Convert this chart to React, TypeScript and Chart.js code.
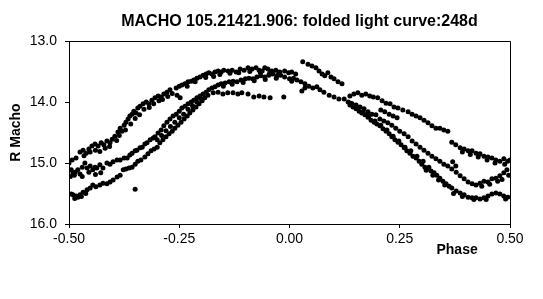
import React, { useEffect, useRef } from "react";
import { Chart, registerables } from "chart.js";

Chart.register(...registerables);

const TITLE = "MACHO 105.21421.906: folded light curve:248d";
const X_LABEL = "Phase";
const Y_LABEL = "R Macho";
const X_MIN = -0.5;
const X_MAX = 0.5;
const X_STEP = 0.25;
const Y_MIN = 13;
const Y_MAX = 16;
const Y_STEP = 1;

// [phase, R magnitude]
const upperArc: [number, number][] = [
  [-0.493, 14.95], [-0.484, 14.92], [-0.475, 14.82], [-0.468, 14.79], [-0.461, 14.84], [-0.455, 14.77],
  [-0.448, 14.72], [-0.441, 14.69], [-0.434, 14.72], [-0.427, 14.67], [-0.421, 14.7], [-0.414, 14.64],
  [-0.407, 14.67], [-0.402, 14.61], [-0.396, 14.56], [-0.389, 14.49], [-0.384, 14.43], [-0.38, 14.48],
  [-0.375, 14.38], [-0.371, 14.33], [-0.366, 14.28], [-0.362, 14.23], [-0.357, 14.2], [-0.353, 14.15],
  [-0.348, 14.18], [-0.344, 14.1], [-0.339, 14.07], [-0.332, 14.03], [-0.325, 14.0], [-0.319, 14.03],
  [-0.312, 13.97], [-0.305, 13.93], [-0.298, 13.9], [-0.291, 13.92], [-0.285, 13.87], [-0.278, 13.84],
  [-0.271, 13.8], [-0.257, 13.77], [-0.25, 13.74], [-0.244, 13.72], [-0.237, 13.7], [-0.23, 13.67],
  [-0.223, 13.66], [-0.217, 13.64], [-0.21, 13.61], [-0.203, 13.59], [-0.196, 13.56], [-0.189, 13.54],
  [-0.183, 13.52], [-0.176, 13.54], [-0.169, 13.51], [-0.162, 13.49], [-0.155, 13.51], [-0.149, 13.48],
  [-0.139, 13.49], [-0.13, 13.48], [-0.121, 13.51], [-0.112, 13.46], [-0.103, 13.48], [-0.094, 13.44],
  [-0.085, 13.46], [-0.076, 13.44], [-0.069, 13.48], [-0.062, 13.49], [-0.056, 13.44], [-0.049, 13.46],
  [-0.04, 13.49], [-0.031, 13.48], [-0.022, 13.51], [-0.011, 13.49], [-0.002, 13.52], [0.005, 13.51],
  [0.014, 13.54], [0.03, 13.34], [0.042, 13.38], [0.051, 13.41], [0.06, 13.44], [0.067, 13.49],
  [0.074, 13.54], [0.08, 13.57], [0.087, 13.52], [0.094, 13.59], [0.101, 13.62], [0.11, 13.67],
  [0.119, 13.7],
];

const upperArcInner: [number, number][] = [
  [-0.466, 14.88], [-0.452, 14.82], [-0.44, 14.79], [-0.43, 14.81], [-0.418, 14.76], [-0.408, 14.73],
  [-0.392, 14.63], [-0.386, 14.55], [-0.372, 14.46], [-0.36, 14.36], [-0.35, 14.27], [-0.34, 14.21],
  [-0.33, 14.12], [-0.318, 14.09], [-0.308, 14.03], [-0.296, 13.98], [-0.288, 13.96], [-0.276, 13.91],
  [-0.266, 13.86], [-0.232, 13.74], [-0.214, 13.67], [-0.19, 13.6], [-0.172, 13.58], [-0.158, 13.55],
  [-0.135, 13.53], [-0.115, 13.52], [-0.09, 13.5], [-0.066, 13.52], [-0.045, 13.53], [-0.025, 13.54],
];

const rightTop: [number, number][] = [
  [0.137, 13.9], [0.146, 13.87], [0.155, 13.85], [0.164, 13.89], [0.173, 13.87], [0.182, 13.9],
  [0.19, 13.92], [0.2, 13.93], [0.21, 13.98], [0.219, 14.02], [0.228, 14.03], [0.237, 14.08],
  [0.246, 14.1], [0.257, 14.13], [0.269, 14.16], [0.278, 14.2], [0.287, 14.23], [0.296, 14.26],
  [0.305, 14.3], [0.314, 14.34], [0.323, 14.39], [0.332, 14.43], [0.341, 14.43], [0.35, 14.46],
  [0.359, 14.48], [0.368, 14.66], [0.377, 14.7], [0.387, 14.75], [0.396, 14.77], [0.405, 14.8],
  [0.414, 14.8], [0.423, 14.84], [0.432, 14.85], [0.441, 14.89], [0.45, 14.9], [0.459, 14.92],
  [0.468, 14.95], [0.477, 14.97], [0.486, 14.93], [0.495, 14.97], [0.5, 14.95],
  [0.392, 14.82], [0.41, 14.86], [0.428, 14.9], [0.448, 14.95], [0.466, 15.0], [0.488, 15.02],
];

const rightUpper: [number, number][] = [
  [0.133, 14.0], [0.142, 14.03], [0.151, 14.05], [0.16, 14.08], [0.169, 14.11], [0.178, 14.16],
  [0.187, 14.2], [0.196, 14.21], [0.207, 14.13], [0.216, 14.16], [0.226, 14.2], [0.235, 14.23],
  [0.244, 14.26],
];

const rightMiddle: [number, number][] = [
  [0.205, 14.28], [0.214, 14.31], [0.223, 14.34], [0.232, 14.38], [0.241, 14.43], [0.25, 14.48],
  [0.26, 14.52], [0.269, 14.57], [0.278, 14.64], [0.287, 14.69], [0.296, 14.74], [0.305, 14.79],
  [0.314, 14.84], [0.323, 14.89], [0.332, 14.93], [0.341, 14.97], [0.35, 15.02], [0.359, 15.05],
  [0.368, 15.1], [0.378, 15.15], [0.387, 15.21], [0.396, 15.26], [0.405, 15.31], [0.414, 15.34],
  [0.423, 15.36], [0.432, 15.33], [0.441, 15.3], [0.45, 15.31], [0.459, 15.26], [0.468, 15.25],
  [0.477, 15.21], [0.486, 15.16], [0.493, 15.11],
  [0.436, 15.38], [0.454, 15.35], [0.472, 15.3], [0.482, 15.27], [0.497, 15.2],
];

const middleArc: [number, number][] = [
  [-0.5, 15.0], [-0.495, 15.11], [-0.491, 15.16], [-0.486, 15.15], [-0.48, 15.11], [-0.475, 15.18],
  [-0.47, 15.07], [-0.464, 15.0], [-0.459, 15.08], [-0.452, 15.05], [-0.446, 15.11], [-0.441, 15.07],
  [-0.437, 15.08], [-0.43, 15.03], [-0.423, 15.08], [-0.414, 15.0], [-0.407, 15.02], [-0.4, 14.98],
  [-0.391, 14.95], [-0.384, 14.95], [-0.375, 14.92], [-0.368, 14.92], [-0.362, 14.87], [-0.357, 14.84],
  [-0.35, 14.8], [-0.346, 14.79], [-0.339, 14.75], [-0.334, 14.74], [-0.328, 14.69], [-0.323, 14.67],
  [-0.316, 14.62], [-0.309, 14.59], [-0.305, 14.57], [-0.298, 14.51], [-0.291, 14.46], [-0.285, 14.39],
  [-0.278, 14.33], [-0.271, 14.28], [-0.264, 14.23], [-0.257, 14.2], [-0.25, 14.15], [-0.244, 14.1],
  [-0.237, 14.07], [-0.23, 14.03], [-0.223, 14.0], [-0.217, 13.97], [-0.21, 13.93], [-0.203, 13.9],
  [-0.196, 13.87], [-0.189, 13.84], [-0.183, 13.8], [-0.176, 13.77], [-0.169, 13.75], [-0.162, 13.72],
  [-0.155, 13.7], [-0.146, 13.69], [-0.137, 13.67], [-0.128, 13.66], [-0.119, 13.67], [-0.11, 13.64],
  [-0.1, 13.62], [-0.092, 13.61], [-0.083, 13.62], [-0.074, 13.59], [-0.065, 13.57], [-0.056, 13.59],
  [-0.047, 13.56], [-0.038, 13.54], [-0.029, 13.57], [-0.02, 13.56], [-0.011, 13.59], [0.0, 13.62],
  [0.009, 13.61], [0.017, 13.64], [0.026, 13.67], [0.035, 13.7], [0.044, 13.74], [0.053, 13.77],
  [0.062, 13.75], [0.069, 13.8], [0.078, 13.84], [0.09, 13.89], [0.101, 13.92], [0.112, 13.95],
  [0.124, 13.95],
  [-0.497, 15.22], [-0.488, 15.2], [-0.47, 15.22], [-0.455, 15.15], [-0.44, 15.19], [-0.428, 15.16],
  [-0.3, 14.62], [-0.29, 14.55], [-0.28, 14.47], [-0.27, 14.4], [-0.26, 14.33], [-0.25, 14.26],
  [-0.24, 14.2], [-0.23, 14.12], [-0.22, 14.06], [-0.21, 14.0], [-0.2, 13.95], [-0.15, 13.74],
  [-0.13, 13.71], [-0.105, 13.68], [-0.08, 13.65], [-0.055, 13.63], [-0.03, 13.61], [0.005, 13.66],
];

const rightDense: [number, number][] = [
  [0.137, 14.05], [0.144, 14.08], [0.151, 14.11], [0.158, 14.15], [0.164, 14.18], [0.171, 14.21],
  [0.178, 14.25], [0.185, 14.3], [0.192, 14.33], [0.198, 14.36], [0.205, 14.39], [0.212, 14.44],
  [0.219, 14.48], [0.226, 14.52], [0.232, 14.57], [0.239, 14.62], [0.246, 14.66], [0.253, 14.7],
  [0.26, 14.75], [0.266, 14.8], [0.273, 14.84], [0.28, 14.89], [0.287, 14.92], [0.294, 14.97],
  [0.3, 15.02], [0.307, 15.07], [0.314, 15.1], [0.321, 15.13], [0.328, 15.16], [0.334, 15.2],
  [0.341, 15.25], [0.348, 15.3], [0.355, 15.34], [0.362, 15.38], [0.368, 15.41], [0.378, 15.46],
  [0.387, 15.49], [0.396, 15.52], [0.405, 15.56], [0.414, 15.57], [0.423, 15.57], [0.432, 15.59],
  [0.441, 15.57], [0.45, 15.54], [0.459, 15.51], [0.468, 15.49], [0.477, 15.51], [0.486, 15.54],
  [0.495, 15.56],
  [0.139, 14.02], [0.153, 14.1], [0.167, 14.16], [0.18, 14.23], [0.194, 14.31], [0.207, 14.38],
  [0.221, 14.46], [0.235, 14.56], [0.248, 14.64], [0.262, 14.74], [0.275, 14.8], [0.289, 14.89],
  [0.303, 14.97], [0.316, 15.07],
  [0.31, 15.12], [0.325, 15.2], [0.338, 15.28], [0.352, 15.36], [0.372, 15.5], [0.392, 15.55],
  [0.418, 15.6], [0.446, 15.6], [0.49, 15.59],
];

const lowerArc: [number, number][] = [
  [-0.495, 15.51], [-0.491, 15.52], [-0.484, 15.54], [-0.48, 15.56], [-0.475, 15.52], [-0.468, 15.48],
  [-0.459, 15.44], [-0.452, 15.41], [-0.446, 15.36], [-0.439, 15.39], [-0.43, 15.36], [-0.423, 15.33],
  [-0.414, 15.34], [-0.407, 15.31], [-0.4, 15.28], [-0.391, 15.23], [-0.384, 15.2], [-0.377, 15.11],
  [-0.371, 15.1], [-0.364, 15.08], [-0.357, 15.07], [-0.35, 15.02], [-0.344, 14.97], [-0.337, 14.95],
  [-0.328, 14.9], [-0.321, 14.85], [-0.314, 14.8], [-0.307, 14.77], [-0.3, 14.74], [-0.294, 14.67],
  [-0.287, 14.62], [-0.28, 14.57], [-0.273, 14.52], [-0.266, 14.48], [-0.26, 14.43], [-0.253, 14.38],
  [-0.246, 14.33], [-0.239, 14.28], [-0.232, 14.23], [-0.226, 14.18], [-0.219, 14.13], [-0.212, 14.08],
  [-0.205, 14.03], [-0.198, 13.98], [-0.192, 13.93], [-0.185, 13.89],
  [-0.487, 15.58], [-0.472, 15.55], [-0.462, 15.5],
];

const dottedRow: [number, number][] = [
  [-0.173, 13.85], [-0.162, 13.84], [-0.151, 13.87], [-0.14, 13.85], [-0.128, 13.85], [-0.117, 13.87],
  [-0.108, 13.85], [-0.094, 13.87], [-0.081, 13.92], [-0.069, 13.9], [-0.058, 13.92], [-0.044, 13.93],
  [-0.013, 13.92], [0.028, 13.82], [0.035, 13.77],
];

const strays: [number, number][] = [
  [-0.35, 15.43], [-0.255, 13.89], [-0.248, 13.93], [0.37, 14.98], [0.377, 15.05],
];

const allPoints = [
  ...upperArc, ...upperArcInner, ...rightTop, ...rightUpper, ...rightMiddle, ...middleArc,
  ...rightDense, ...lowerArc, ...dottedRow, ...strays,
].map(([x, y]) => ({ x, y }));

const FONT = '"Liberation Sans", Arial, sans-serif';

const decor = {
  id: "decor",
  afterDraw(chart: any) {
    const { ctx, chartArea: a, scales } = chart;
    ctx.save();
    ctx.strokeStyle = "#000";
    ctx.lineWidth = 1;
    ctx.beginPath();
    ctx.moveTo(a.left, Math.round(a.top) + 0.5);
    ctx.lineTo(Math.round(a.right) + 0.5, Math.round(a.top) + 0.5);
    ctx.lineTo(Math.round(a.right) + 0.5, a.bottom);
    ctx.stroke();

    ctx.fillStyle = "#000";
    ctx.textAlign = "center";
    ctx.textBaseline = "middle";
    ctx.font = `bold 16px ${FONT}`;
    ctx.fillText(TITLE, (a.left + a.right) / 2 + 10, a.top - 19);

    ctx.font = `bold 14px ${FONT}`;
    ctx.fillText(X_LABEL, scales.x.getPixelForValue(0.38), a.bottom + 26);

    ctx.translate(16, scales.y.getPixelForValue(14.5));
    ctx.rotate(-Math.PI / 2);
    ctx.fillText(Y_LABEL, 0, 0);
    ctx.restore();
  },
};

export default function App() {
  const ref = useRef<HTMLCanvasElement | null>(null);
  useEffect(() => {
    if (!ref.current) return;
    const chart = new Chart(ref.current, {
      type: "scatter",
      data: {
        datasets: [
          {
            data: allPoints,
            pointRadius: 2.5,
            pointBackgroundColor: "#000",
            pointBorderWidth: 0,
            pointHoverRadius: 2.5,
          },
        ],
      },
      options: {
        animation: false,
        responsive: true,
        maintainAspectRatio: false,
        layout: { padding: { left: 0, right: 33, top: 41, bottom: 0 } },
        plugins: { legend: { display: false }, tooltip: { enabled: false }, title: { display: false } },
        scales: {
          x: {
            type: "linear",
            min: X_MIN,
            max: X_MAX,
            afterFit: (s: any) => { s.height = 75; },
            ticks: {
              stepSize: X_STEP,
              color: "#000",
              font: { family: FONT, size: 14 },
              padding: 3,
              maxRotation: 0,
              callback: (v: any) => Number(v).toFixed(2),
            },
            grid: { drawOnChartArea: false, drawTicks: true, tickLength: 4, color: "#000" },
            border: { display: true, color: "#000", width: 1 },
          },
          y: {
            type: "linear",
            min: Y_MIN,
            max: Y_MAX,
            reverse: true,
            afterFit: (s: any) => { s.width = 69; },
            ticks: {
              stepSize: Y_STEP,
              color: "#000",
              font: { family: FONT, size: 14 },
              padding: 8,
              callback: (v: any) => Number(v).toFixed(1),
            },
            grid: { drawOnChartArea: false, drawTicks: true, tickLength: 4, color: "#000" },
            border: { display: true, color: "#000", width: 1 },
          },
        },
      },
      plugins: [decor],
    });
    return () => chart.destroy();
  }, []);
  return (
    <div style={{ position: "fixed", left: 0, top: 0, width: 543, height: 299, background: "#fff" }}>
      <canvas ref={ref} />
    </div>
  );
}
